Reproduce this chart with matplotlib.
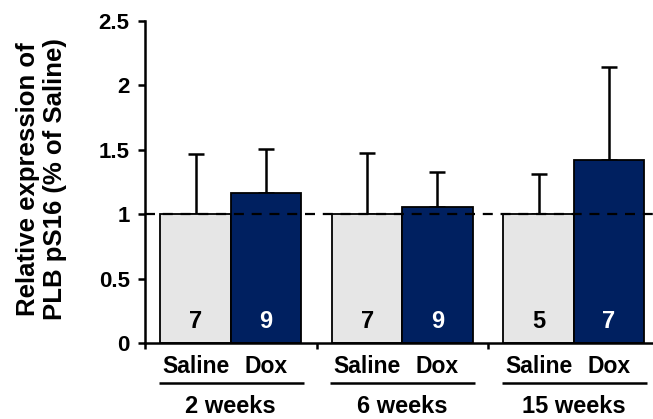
import matplotlib
matplotlib.use("Agg")
import matplotlib.pyplot as plt
import matplotlib.transforms as mtransforms
import numpy as np

plt.rcParams['font.family'] = ['Liberation Sans', 'DejaVu Sans']
plt.rcParams['font.weight'] = 'bold'

groups = ["2 weeks", "6 weeks", "15 weeks"]
treatments = ["Saline", "Dox"]
saline_mean = [1.0, 1.0, 1.0]
saline_err = [0.465, 0.475, 0.31]
dox_mean = [1.165, 1.055, 1.42]
dox_err = [0.34, 0.27, 0.725]
saline_n = [7, 7, 5]
dox_n = [9, 9, 7]
y_ticks = [0, 0.5, 1, 1.5, 2, 2.5]
y_tick_labels = ["0", "0.5", "1", "1.5", "2", "2.5"]

SALINE_COLOR = "#e6e6e6"
DOX_COLOR = "#002060"

fig = plt.figure(figsize=(6.53, 4.19), dpi=100)
ax = fig.add_axes([145 / 653, 1 - 343 / 419, (653 - 145) / 653, (343 - 21) / 419])

x = np.arange(len(groups))
width = 0.41
xs = x - width / 2
xd = x + width / 2

ax.bar(xs, saline_mean, width, color=SALINE_COLOR, edgecolor="black", linewidth=1.3, zorder=2)
ax.bar(xd, dox_mean, width, color=DOX_COLOR, edgecolor="black", linewidth=1.3, zorder=2)
ax.errorbar(xs, saline_mean, yerr=[np.zeros(3), saline_err], fmt="none", ecolor="black",
            elinewidth=1.8, capsize=6, capthick=1.8, zorder=1)
ax.errorbar(xd, dox_mean, yerr=[np.zeros(3), dox_err], fmt="none", ecolor="black",
            elinewidth=1.8, capsize=6, capthick=1.8, zorder=1)

# reference level at 100 % of saline
ax.axhline(1.0, color="black", linewidth=1.6, dashes=(4.5, 3.5), zorder=3)

# group sizes inside the bars
for i in range(len(groups)):
    ax.text(xs[i], 0.075, str(saline_n[i]), ha="center", va="bottom", fontsize=17,
            fontweight="bold", color="black", zorder=4)
    ax.text(xd[i], 0.075, str(dox_n[i]), ha="center", va="bottom", fontsize=17,
            fontweight="bold", color="white", zorder=4)

ax.set_xlim(-0.5, 2.462)
ax.set_ylim(0, 2.5)
ax.set_yticks(y_ticks)
ax.set_yticklabels(y_tick_labels)
ax.tick_params(axis="y", direction="out", length=5, width=1.8, labelsize=16, pad=6)
ax.set_xticks([-0.5, 0.5, 1.5])
ax.set_xticklabels([])
ax.tick_params(axis="x", direction="out", length=4, width=1.8)
for lab in ax.get_yticklabels():
    lab.set_fontweight("bold")

for s in ["top", "right"]:
    ax.spines[s].set_visible(False)
for s in ["left", "bottom"]:
    ax.spines[s].set_linewidth(1.8)

ax.set_ylabel("Relative expression of\nPLB pS16 (% of Saline)", fontsize=18.5,
              fontweight="bold", linespacing=1.15)
ax.yaxis.set_label_coords(-0.153, 0.51)

# treatment labels, underlines and group labels below the axis
trans = mtransforms.blended_transform_factory(ax.transData, ax.transAxes)
for i, g in enumerate(groups):
    ax.text(xs[i], -0.074, treatments[0], transform=trans, ha="center", va="center",
            fontsize=16.5, fontweight="bold")
    ax.text(xd[i], -0.074, treatments[1], transform=trans, ha="center", va="center",
            fontsize=16.5, fontweight="bold")
    ax.plot([x[i] - 0.42, x[i] + 0.425], [-0.124, -0.124], transform=trans, color="black",
            linewidth=1.8, clip_on=False, solid_capstyle="butt")
    ax.text(x[i], -0.197, g, transform=trans, ha="center", va="center",
            fontsize=17, fontweight="bold")

fig.savefig("out.png", dpi=100)
